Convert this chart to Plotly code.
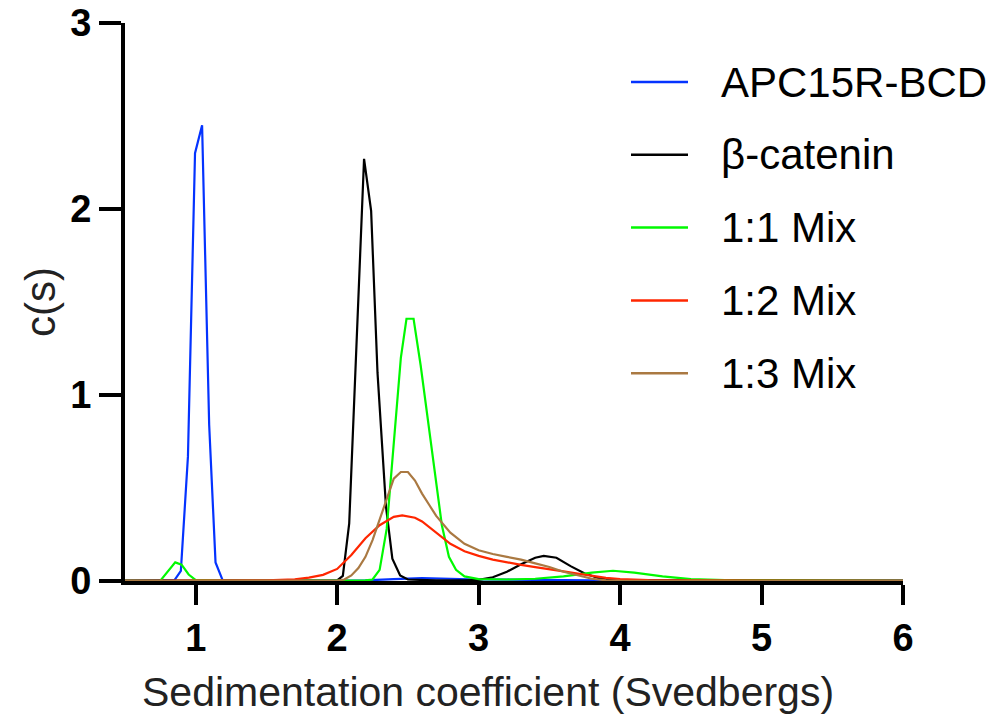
import plotly.graph_objects as go

# ---- data ----
apc_x = [0.5, 0.75, 0.85, 0.895, 0.945, 0.995, 1.045, 1.095, 1.14, 1.19, 1.4, 1.8, 2.2, 2.4, 2.6, 2.8, 3.0, 3.4, 3.8, 4.0, 5.0, 6.0]
apc_y = [0.001, 0.001, 0.005, 0.055, 0.67, 2.30, 2.45, 0.84, 0.10, 0.005, 0.002, 0.002, 0.003, 0.01, 0.015, 0.012, 0.008, 0.006, 0.004, 0.002, 0.001, 0.001]

bcat_x = [0.5, 1.9, 2.0, 2.04, 2.085, 2.19, 2.24, 2.285, 2.345, 2.39, 2.445, 2.5, 2.7, 2.9, 3.0, 3.1, 3.2, 3.3, 3.4, 3.46, 3.55, 3.65, 3.75, 3.85, 4.0, 4.5, 4.87, 5.0, 5.5, 6.0]
bcat_y = [0.002, 0.002, 0.003, 0.027, 0.31, 2.27, 1.99, 1.12, 0.40, 0.12, 0.03, 0.008, 0.003, 0.003, 0.006, 0.02, 0.05, 0.09, 0.125, 0.135, 0.125, 0.08, 0.04, 0.015, 0.005, 0.003, 0.006, 0.004, 0.002, 0.002]

mix11_x = [0.5, 0.75, 0.855, 0.90, 0.95, 1.0, 1.2, 2.0, 2.2, 2.25, 2.3, 2.35, 2.4, 2.45, 2.49, 2.54, 2.59, 2.64, 2.69, 2.74, 2.79, 2.84, 2.9, 3.0, 3.2, 3.4, 3.6, 3.8, 3.95, 4.1, 4.3, 4.5, 4.8, 5.0, 6.0]
mix11_y = [0.001, 0.002, 0.10, 0.088, 0.035, 0.005, 0.002, 0.002, 0.003, 0.008, 0.06, 0.28, 0.75, 1.20, 1.41, 1.41, 1.16, 0.87, 0.56, 0.30, 0.13, 0.06, 0.025, 0.01, 0.008, 0.012, 0.025, 0.045, 0.055, 0.045, 0.025, 0.01, 0.004, 0.003, 0.001]

mix12_x = [0.5, 1.2, 1.5, 1.7, 1.8, 1.9, 2.0, 2.1, 2.2, 2.3, 2.4, 2.46, 2.55, 2.6, 2.7, 2.8, 2.9, 3.0, 3.1, 3.2, 3.3, 3.4, 3.5, 3.6, 3.7, 3.8, 3.9, 4.0, 4.2, 5.0, 6.0]
mix12_y = [0.001, 0.001, 0.003, 0.009, 0.018, 0.033, 0.065, 0.14, 0.23, 0.30, 0.345, 0.353, 0.34, 0.32, 0.26, 0.20, 0.16, 0.135, 0.115, 0.10, 0.087, 0.075, 0.065, 0.052, 0.04, 0.028, 0.017, 0.01, 0.005, 0.002, 0.001]

mix13_x = [0.5, 1.9, 2.0, 2.05, 2.1, 2.15, 2.2, 2.25, 2.3, 2.35, 2.4, 2.45, 2.5, 2.55, 2.6, 2.65, 2.7, 2.8, 2.9, 3.0, 3.1, 3.2, 3.3, 3.4, 3.5, 3.6, 3.7, 3.8, 3.9, 4.0, 5.0, 6.0]
mix13_y = [0.001, 0.001, 0.002, 0.008, 0.03, 0.07, 0.13, 0.22, 0.33, 0.45, 0.55, 0.586, 0.586, 0.54, 0.47, 0.41, 0.35, 0.26, 0.20, 0.165, 0.145, 0.13, 0.115, 0.095, 0.075, 0.05, 0.03, 0.012, 0.004, 0.002, 0.001, 0.001]

series_names = ["APC15R-BCD", "β-catenin", "1:1 Mix", "1:2 Mix", "1:3 Mix"]
series_x = [apc_x, bcat_x, mix11_x, mix12_x, mix13_x]
series_y = [apc_y, bcat_y, mix11_y, mix12_y, mix13_y]
series_colors = ["#0433FF", "#000000", "#00F900", "#FF2600", "#AA7942"]

x_ticks = [1, 2, 3, 4, 5, 6]
y_ticks = [0, 1, 2, 3]
x_title = "Sedimentation coefficient (Svedbergs)"
y_title = "c(s)"

W, H = 992, 721
M_L, M_R, M_T, M_B = 125, 89, 23, 140
plot_w = W - M_L - M_R
plot_h = H - M_T - M_B


def px_to_paper_x(px):
    return (px - M_L) / plot_w


def px_to_paper_y(py):
    return (H - M_B - py) / plot_h


fig = go.Figure()
for nm, xs, ys, col in zip(series_names, series_x, series_y, series_colors):
    fig.add_trace(go.Scatter(x=xs, y=ys, mode="lines", name=nm, showlegend=False,
                             line=dict(color=col, width=2.2)))

font_family = "Liberation Sans, Arial, sans-serif"

# manual legend (line sample + label)
leg_line_x0, leg_line_x1, leg_text_x = 631, 688, 719
leg_first_y, leg_step = 82, 72.8
shapes, annotations = [], []
for i, (nm, col) in enumerate(zip(series_names, series_colors)):
    py = leg_first_y + i * leg_step
    yp = px_to_paper_y(py)
    shapes.append(dict(type="line", xref="paper", yref="paper",
                       x0=px_to_paper_x(leg_line_x0), x1=px_to_paper_x(leg_line_x1),
                       y0=yp, y1=yp, line=dict(color=col, width=2.5)))
    annotations.append(dict(text=nm, xref="paper", yref="paper",
                            x=px_to_paper_x(leg_text_x), y=yp,
                            xanchor="left", yanchor="middle", showarrow=False,
                            font=dict(family=font_family, size=42, color="black")))

# x-axis title (placed as in the reference, slightly left of the plot centre)
annotations.append(dict(text=x_title, xref="paper", yref="paper",
                        x=px_to_paper_x(488), y=px_to_paper_y(692),
                        xanchor="center", yanchor="middle", showarrow=False,
                        font=dict(family=font_family, size=41, color="#222222")))

fig.update_layout(
    width=W, height=H,
    margin=dict(l=M_L, r=M_R, t=M_T, b=M_B, autoexpand=False),
    plot_bgcolor="white", paper_bgcolor="white",
    showlegend=False,
    shapes=shapes, annotations=annotations,
    xaxis=dict(range=[0.5, 6], tickvals=x_ticks, ticktext=[str(v) for v in x_ticks],
               showline=True, linewidth=4, linecolor="black", mirror=False,
               ticks="outside", ticklen=20, tickwidth=4, tickcolor="black",
               showgrid=False, zeroline=False, automargin=False,
               tickfont=dict(family=font_family, size=38, color="black", weight="bold")),
    yaxis=dict(range=[0, 3], tickvals=y_ticks, ticktext=[str(v) for v in y_ticks],
               showline=True, linewidth=4, linecolor="black",
               ticks="outside", ticklen=22, tickwidth=4, tickcolor="black",
               showgrid=False, zeroline=False, automargin=False,
               tickfont=dict(family=font_family, size=38, color="black", weight="bold"),
               title=dict(text=y_title, standoff=3,
                          font=dict(family=font_family, size=42, color="#222222"))),
)

fig.write_html("out.html",
               config={"displayModeBar": False},
               post_script="document.body.style.margin='0';document.body.style.padding='0';")
